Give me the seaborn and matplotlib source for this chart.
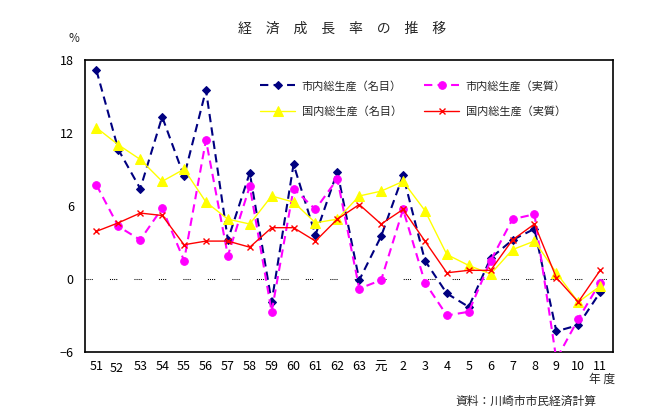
import matplotlib
matplotlib.use("Agg")
import matplotlib.pyplot as plt
import matplotlib.transforms as mtransforms
import numpy as np
import pandas as pd
import seaborn as sns

# fiscal years (Showa 51 .. Heisei 11)
years = ["51", "52", "53", "54", "55", "56", "57", "58", "59", "60", "61", "62",
         "63", "元", "2", "3", "4", "5", "6", "7", "8", "9", "10", "11"]

# growth rates, %
city_nominal = [17.1, 10.6, 7.4, 13.3, 8.4, 15.5, 3.2, 8.7, -1.9, 9.4, 3.6, 8.8,
                -0.1, 3.5, 8.5, 1.5, -1.2, -2.3, 1.7, 3.2, 4.1, -4.3, -3.8, -1.1]
city_real = [7.7, 4.3, 3.2, 5.8, 1.5, 11.4, 1.9, 7.6, -2.7, 7.4, 5.7, 8.2,
             -0.8, -0.1, 5.7, -0.3, -3.0, -2.7, 1.5, 4.9, 5.3, -6.6, -3.3, -0.3]
nation_nominal = [12.4, 11.0, 9.8, 8.0, 9.0, 6.3, 4.9, 4.5, 6.8, 6.3, 4.6, 4.9,
                  6.8, 7.2, 8.0, 5.6, 2.0, 1.1, 0.4, 2.4, 3.1, 0.5, -1.9, -0.6]
nation_real = [3.9, 4.6, 5.4, 5.2, 2.8, 3.1, 3.1, 2.6, 4.2, 4.2, 3.1, 4.9,
               6.1, 4.5, 5.7, 3.1, 0.5, 0.7, 0.7, 3.2, 4.5, 0.1, -1.9, 0.7]

series_names = ["市内総生産（名目）", "市内総生産（実質）",
                "国内総生産（名目）", "国内総生産（実質）"]

sns.set_theme(style="white")
plt.rcParams["font.family"] = ["Noto Sans CJK JP", "DejaVu Sans"]

pos = np.arange(len(years))
df = pd.DataFrame({
    "pos": pos,
    series_names[0]: city_nominal,
    series_names[1]: city_real,
    series_names[2]: nation_nominal,
    series_names[3]: nation_real,
})

fig = plt.figure(figsize=(6.63, 4.09), dpi=100)
fig.patch.set_facecolor("white")
ax = fig.add_axes([0.128, 0.1394, 0.797, 0.7151])

# dotted zero line
ax.axhline(0, color="black", lw=0.75, linestyle=(0, (1, 1, 1, 1, 1, 1, 1, 16.5)), zorder=1)

styles = [
    dict(color="#000080", marker="D", markersize=4.5, linestyle=(0, (4, 2.5)), linewidth=1.5),
    dict(color="#FF00FF", marker="o", markersize=5.5, linestyle=(0, (4, 2.5)), linewidth=1.5),
    dict(color="#FFFF00", marker="^", markersize=6.5, linestyle="-", linewidth=1.0),
    dict(color="#FF0000", marker="x", markersize=5, linestyle="-", linewidth=1.0,
         markeredgewidth=1.0),
]
draw_order = [2, 3, 1, 0]
for i in draw_order:
    name = series_names[i]
    sns.lineplot(data=df, x="pos", y=name, ax=ax, label=name,
                 markeredgecolor=styles[i]["color"], zorder=3 + i, **styles[i])

ax.set_xlim(-0.53, 23.6)
ax.set_ylim(-6, 18)
ax.set_yticks([-6, 0, 6, 12, 18])
ax.set_xticks(pos)
ax.set_xticklabels(years)
ax.set_xlabel("")
ax.set_ylabel("")
ax.tick_params(axis="both", length=0, labelsize=9, colors="black", pad=6)
ax.tick_params(axis="y", pad=8)
for s in ax.spines.values():
    s.set_color("black")
    s.set_linewidth(1.2)
ax.grid(False)

# the "52" label sits a little lower in the original
lab52 = ax.get_xticklabels()[1]
lab52.set_transform(lab52.get_transform() +
                    mtransforms.ScaledTranslation(-1.5 / 72, -1.5 / 72, fig.dpi_scale_trans))

# legend rows: city nominal / city real, then nation nominal / nation real
h, l = ax.get_legend_handles_labels()
order = [l.index(series_names[k]) for k in (0, 2, 1, 3)]
ax.legend([h[k] for k in order], [l[k] for k in order], ncol=2, frameon=False,
          loc="upper left", bbox_to_anchor=(0.392, 0.803), bbox_transform=fig.transFigure,
          fontsize=8, handlelength=3.2, columnspacing=2.0, labelspacing=1.35,
          handletextpad=0.55, borderpad=0, borderaxespad=0)

fig.text(0.516, 0.93, "経　済　成　長　率　の　推　移", ha="center", va="center", fontsize=10)
fig.text(0.112, 0.907, "%", ha="center", va="center", fontsize=8.5)
fig.text(0.908, 0.072, "年 度", ha="center", va="center", fontsize=8.5)
fig.text(0.90, 0.018, "資料：川崎市市民経済計算", ha="right", va="center", fontsize=8.5)

fig.savefig("out.png", dpi=100)
